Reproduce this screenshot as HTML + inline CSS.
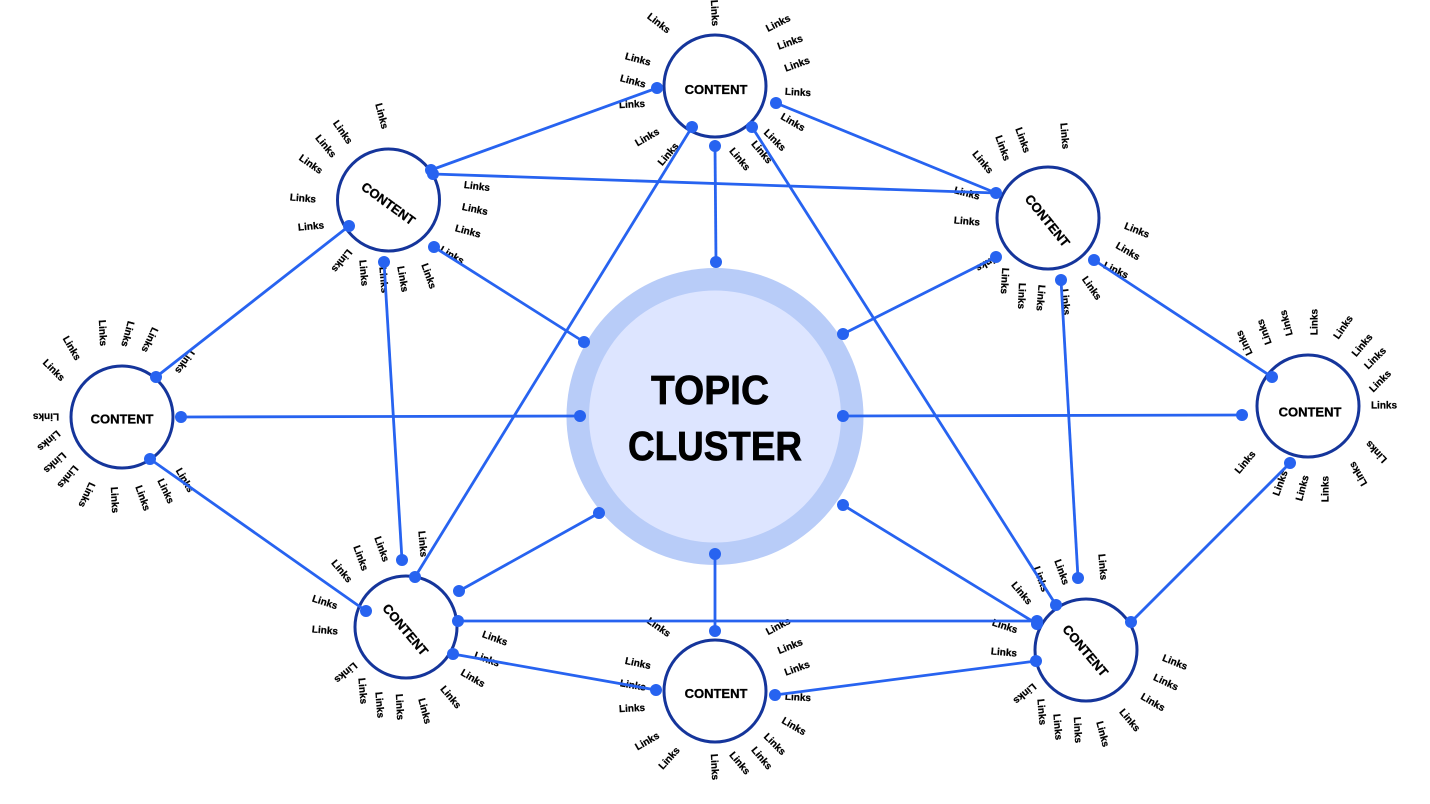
<!DOCTYPE html>
<html lang="en">
<head>
<meta charset="utf-8">
<title>Topic Cluster</title>
<style>
html,body{margin:0;padding:0;background:#fff;width:1430px;height:804px;overflow:hidden}
svg{display:block}
text{font-family:"Liberation Sans",sans-serif;font-weight:700;fill:#000;text-anchor:middle}
.l text{font-size:10px;stroke:#000;stroke-width:.25}
.c text{font-size:13px;stroke:#000;stroke-width:.3}
.t{stroke:#000;stroke-width:.7}
.n circle{fill:#fff;stroke:#15359b;stroke-width:3}
.e line{stroke:#2763f0;stroke-width:2.8}
.d circle{fill:#2763f0}
</style>
</head>
<body>
<svg width="1430" height="804" viewBox="0 0 1430 804" xmlns="http://www.w3.org/2000/svg">
<rect width="1430" height="804" fill="#fff"/>
<circle cx="715" cy="416.5" r="148.5" fill="#b8ccf8"/>
<circle cx="715" cy="416.5" r="126" fill="#dde5ff"/>
<text class="t" x="710" y="404" font-size="41" textLength="118" lengthAdjust="spacingAndGlyphs">TOPIC</text>
<text class="t" x="715" y="460" font-size="41" textLength="174" lengthAdjust="spacingAndGlyphs">CLUSTER</text>

<g class="n">
<circle cx="715" cy="86" r="51"/>
<circle cx="388.5" cy="200" r="51"/>
<circle cx="1048" cy="218" r="51"/>
<circle cx="122" cy="417" r="51"/>
<circle cx="1308" cy="406" r="51"/>
<circle cx="406" cy="627" r="51"/>
<circle cx="715" cy="691" r="51"/>
<circle cx="1086" cy="650" r="51"/>
</g>

<g class="c">
<text transform="translate(716 94)">CONTENT</text>
<text transform="translate(388 204) rotate(36) translate(0 4)">CONTENT</text>
<text transform="translate(1047 221) rotate(51) translate(0 4)">CONTENT</text>
<text transform="translate(122 423.5)">CONTENT</text>
<text transform="translate(1310 416.5)">CONTENT</text>
<text transform="translate(405 630) rotate(50) translate(0 4)">CONTENT</text>
<text transform="translate(716 698)">CONTENT</text>
<text transform="translate(1085 651) rotate(50) translate(0 4)">CONTENT</text>
</g>

<g class="l">
<!-- top -->
<text transform="translate(659 23) rotate(38) translate(0 3.5)">Links</text>
<text transform="translate(715 13) rotate(87) translate(0 3.5)">Links</text>
<text transform="translate(778 23) rotate(-27) translate(0 3.5)">Links</text>
<text transform="translate(790 42) rotate(-20) translate(0 3.5)">Links</text>
<text transform="translate(797 64) rotate(-20) translate(0 3.5)">Links</text>
<text transform="translate(798 92) rotate(3) translate(0 3.5)">Links</text>
<text transform="translate(793 122) rotate(30) translate(0 3.5)">Links</text>
<text transform="translate(775 140) rotate(45) translate(0 3.5)">Links</text>
<text transform="translate(762 152) rotate(50) translate(0 3.5)">Links</text>
<text transform="translate(740 159) rotate(50) translate(0 3.5)">Links</text>
<text transform="translate(668 154) rotate(-50) translate(0 3.5)">Links</text>
<text transform="translate(647 137) rotate(-30) translate(0 3.5)">Links</text>
<text transform="translate(632 104) rotate(-3) translate(0 3.5)">Links</text>
<text transform="translate(633 81) rotate(15) translate(0 3.5)">Links</text>
<text transform="translate(638 59) rotate(15) translate(0 3.5)">Links</text>
<!-- top left -->
<text transform="translate(382 116) rotate(75) translate(0 3.5)">Links</text>
<text transform="translate(343 132) rotate(55) translate(0 3.5)">Links</text>
<text transform="translate(326 146) rotate(50) translate(0 3.5)">Links</text>
<text transform="translate(311 164) rotate(35) translate(0 3.5)">Links</text>
<text transform="translate(303 198) rotate(5) translate(0 3.5)">Links</text>
<text transform="translate(311 226) rotate(-5) translate(0 3.5)">Links</text>
<text transform="translate(342 261) rotate(129) translate(0 3.5)">Links</text>
<text transform="translate(364 273) rotate(85) translate(0 3.5)">Links</text>
<text transform="translate(384 280) rotate(85) translate(0 3.5)">Links</text>
<text transform="translate(403 279) rotate(80) translate(0 3.5)">Links</text>
<text transform="translate(429 276) rotate(70) translate(0 3.5)">Links</text>
<text transform="translate(477 186) rotate(7) translate(0 3.5)">Links</text>
<text transform="translate(475 209) rotate(12) translate(0 3.5)">Links</text>
<text transform="translate(468 231) rotate(15) translate(0 3.5)">Links</text>
<text transform="translate(452 255) rotate(30) translate(0 3.5)">Links</text>
<!-- top right -->
<text transform="translate(1065 136) rotate(85) translate(0 3.5)">Links</text>
<text transform="translate(1023 140) rotate(70) translate(0 3.5)">Links</text>
<text transform="translate(1003 148) rotate(70) translate(0 3.5)">Links</text>
<text transform="translate(983 162) rotate(50) translate(0 3.5)">Links</text>
<text transform="translate(967 193) rotate(15) translate(0 3.5)">Links</text>
<text transform="translate(967 221) rotate(5) translate(0 3.5)">Links</text>
<text transform="translate(988 263) rotate(150) translate(0 3.5)">Links</text>
<text transform="translate(1005 281) rotate(93) translate(0 3.5)">Links</text>
<text transform="translate(1022 296) rotate(92) translate(0 3.5)">Links</text>
<text transform="translate(1041 298) rotate(95) translate(0 3.5)">Links</text>
<text transform="translate(1066 302) rotate(85) translate(0 3.5)">Links</text>
<text transform="translate(1092 288) rotate(55) translate(0 3.5)">Links</text>
<text transform="translate(1137 230) rotate(22) translate(0 3.5)">Links</text>
<text transform="translate(1128 251) rotate(30) translate(0 3.5)">Links</text>
<text transform="translate(1116 270) rotate(25) translate(0 3.5)">Links</text>
<!-- left -->
<text transform="translate(103 333) rotate(87) translate(0 3.5)">Links</text>
<text transform="translate(128 334) rotate(105) translate(0 3.5)">Links</text>
<text transform="translate(150 340) rotate(115) translate(0 3.5)">Links</text>
<text transform="translate(72 348) rotate(60) translate(0 3.5)">Links</text>
<text transform="translate(54 370) rotate(45) translate(0 3.5)">Links</text>
<text transform="translate(185 362) rotate(125) translate(0 3.5)">Links</text>
<text transform="translate(46 417) rotate(180) translate(0 3.5)">Links</text>
<text transform="translate(49 441) rotate(140) translate(0 3.5)">Links</text>
<text transform="translate(55 463) rotate(138) translate(0 3.5)">Links</text>
<text transform="translate(68 477) rotate(130) translate(0 3.5)">Links</text>
<text transform="translate(87 495) rotate(115) translate(0 3.5)">Links</text>
<text transform="translate(115 500) rotate(87) translate(0 3.5)">Links</text>
<text transform="translate(143 498) rotate(70) translate(0 3.5)">Links</text>
<text transform="translate(166 491) rotate(65) translate(0 3.5)">Links</text>
<text transform="translate(185 480) rotate(60) translate(0 3.5)">Links</text>
<!-- right -->
<text transform="translate(1244 343) rotate(-115) translate(0 3.5)">Links</text>
<text transform="translate(1264 332) rotate(-110) translate(0 3.5)">Links</text>
<text transform="translate(1286 323) rotate(-105) translate(0 3.5)">Links</text>
<text transform="translate(1314 322) rotate(-90) translate(0 3.5)">Links</text>
<text transform="translate(1343 327) rotate(-55) translate(0 3.5)">Links</text>
<text transform="translate(1362 345) rotate(-50) translate(0 3.5)">Links</text>
<text transform="translate(1375 358) rotate(-45) translate(0 3.5)">Links</text>
<text transform="translate(1380 381) rotate(-45) translate(0 3.5)">Links</text>
<text transform="translate(1384 405) translate(0 3.5)">Links</text>
<text transform="translate(1376 452) rotate(-133) translate(0 3.5)">Links</text>
<text transform="translate(1358 474) rotate(-120) translate(0 3.5)">Links</text>
<text transform="translate(1325 489) rotate(-90) translate(0 3.5)">Links</text>
<text transform="translate(1302 488) rotate(-75) translate(0 3.5)">Links</text>
<text transform="translate(1280 483) rotate(-70) translate(0 3.5)">Links</text>
<text transform="translate(1245 462) rotate(-50) translate(0 3.5)">Links</text>
<!-- bottom left -->
<text transform="translate(423 544) rotate(85) translate(0 3.5)">Links</text>
<text transform="translate(382 549) rotate(70) translate(0 3.5)">Links</text>
<text transform="translate(361 558) rotate(70) translate(0 3.5)">Links</text>
<text transform="translate(342 571) rotate(50) translate(0 3.5)">Links</text>
<text transform="translate(325 602) rotate(18) translate(0 3.5)">Links</text>
<text transform="translate(325 630) rotate(5) translate(0 3.5)">Links</text>
<text transform="translate(346 673) rotate(140) translate(0 3.5)">Links</text>
<text transform="translate(363 691) rotate(85) translate(0 3.5)">Links</text>
<text transform="translate(380 705) rotate(85) translate(0 3.5)">Links</text>
<text transform="translate(400 707) rotate(87) translate(0 3.5)">Links</text>
<text transform="translate(425 711) rotate(75) translate(0 3.5)">Links</text>
<text transform="translate(451 697) rotate(50) translate(0 3.5)">Links</text>
<text transform="translate(473 678) rotate(30) translate(0 3.5)">Links</text>
<text transform="translate(487 659) rotate(20) translate(0 3.5)">Links</text>
<text transform="translate(495 638) rotate(20) translate(0 3.5)">Links</text>
<!-- bottom -->
<text transform="translate(659 627) rotate(35) translate(0 3.5)">Links</text>
<text transform="translate(778 626) rotate(-28) translate(0 3.5)">Links</text>
<text transform="translate(790 646) rotate(-22) translate(0 3.5)">Links</text>
<text transform="translate(797 668) rotate(-20) translate(0 3.5)">Links</text>
<text transform="translate(798 697) rotate(3) translate(0 3.5)">Links</text>
<text transform="translate(794 726) rotate(30) translate(0 3.5)">Links</text>
<text transform="translate(775 744) rotate(45) translate(0 3.5)">Links</text>
<text transform="translate(762 758) rotate(50) translate(0 3.5)">Links</text>
<text transform="translate(740 763) rotate(50) translate(0 3.5)">Links</text>
<text transform="translate(715 767) rotate(87) translate(0 3.5)">Links</text>
<text transform="translate(669 758) rotate(-48) translate(0 3.5)">Links</text>
<text transform="translate(647 741) rotate(-30) translate(0 3.5)">Links</text>
<text transform="translate(632 708) rotate(-3) translate(0 3.5)">Links</text>
<text transform="translate(633 685) rotate(10) translate(0 3.5)">Links</text>
<text transform="translate(638 663) rotate(12) translate(0 3.5)">Links</text>
<!-- bottom right -->
<text transform="translate(1103 567) rotate(85) translate(0 3.5)">Links</text>
<text transform="translate(1062 572) rotate(70) translate(0 3.5)">Links</text>
<text transform="translate(1041 579) rotate(70) translate(0 3.5)">Links</text>
<text transform="translate(1022 593) rotate(50) translate(0 3.5)">Links</text>
<text transform="translate(1005 626) rotate(18) translate(0 3.5)">Links</text>
<text transform="translate(1004 652) rotate(5) translate(0 3.5)">Links</text>
<text transform="translate(1025 694) rotate(140) translate(0 3.5)">Links</text>
<text transform="translate(1042 712) rotate(85) translate(0 3.5)">Links</text>
<text transform="translate(1058 727) rotate(85) translate(0 3.5)">Links</text>
<text transform="translate(1078 730) rotate(87) translate(0 3.5)">Links</text>
<text transform="translate(1103 734) rotate(75) translate(0 3.5)">Links</text>
<text transform="translate(1130 720) rotate(50) translate(0 3.5)">Links</text>
<text transform="translate(1153 702) rotate(30) translate(0 3.5)">Links</text>
<text transform="translate(1166 682) rotate(25) translate(0 3.5)">Links</text>
<text transform="translate(1175 662) rotate(22) translate(0 3.5)">Links</text>
</g>

<g class="e">
<line x1="431" y1="170" x2="657" y2="88"/>
<line x1="433" y1="174" x2="996" y2="193"/>
<line x1="349" y1="226" x2="156" y2="377"/>
<line x1="434" y1="247" x2="584" y2="342"/>
<line x1="384" y1="262" x2="402" y2="560"/>
<line x1="692" y1="127" x2="415" y2="577"/>
<line x1="715" y1="146" x2="716" y2="262"/>
<line x1="752" y1="127" x2="1056" y2="605"/>
<line x1="776" y1="103" x2="996" y2="193"/>
<line x1="996" y1="257" x2="843" y2="334"/>
<line x1="1094" y1="260" x2="1272" y2="377"/>
<line x1="1061" y1="280" x2="1078" y2="578"/>
<line x1="181" y1="417" x2="580" y2="416"/>
<line x1="843" y1="416" x2="1242" y2="415"/>
<line x1="150" y1="459" x2="366" y2="611"/>
<line x1="599" y1="513" x2="459" y2="591"/>
<line x1="458" y1="621" x2="1037" y2="621"/>
<line x1="453" y1="654" x2="656" y2="690"/>
<line x1="715" y1="554" x2="715" y2="631"/>
<line x1="775" y1="695" x2="1036" y2="661"/>
<line x1="843" y1="505" x2="1037" y2="624"/>
<line x1="1131" y1="622" x2="1290" y2="463"/>
</g>

<g class="d">
<circle cx="431" cy="170" r="6"/><circle cx="657" cy="88" r="6"/>
<circle cx="433" cy="174" r="6"/><circle cx="996" cy="193" r="6"/>
<circle cx="349" cy="226" r="6"/><circle cx="156" cy="377" r="6"/>
<circle cx="434" cy="247" r="6"/><circle cx="584" cy="342" r="6"/>
<circle cx="384" cy="262" r="6"/><circle cx="402" cy="560" r="6"/>
<circle cx="692" cy="127" r="6"/><circle cx="415" cy="577" r="6"/>
<circle cx="715" cy="146" r="6"/><circle cx="716" cy="262" r="6"/>
<circle cx="752" cy="127" r="6"/><circle cx="1056" cy="605" r="6"/>
<circle cx="776" cy="103" r="6"/>
<circle cx="996" cy="257" r="6"/><circle cx="843" cy="334" r="6"/>
<circle cx="1094" cy="260" r="6"/><circle cx="1272" cy="377" r="6"/>
<circle cx="1061" cy="280" r="6"/><circle cx="1078" cy="578" r="6"/>
<circle cx="181" cy="417" r="6"/><circle cx="580" cy="416" r="6"/>
<circle cx="843" cy="416" r="6"/><circle cx="1242" cy="415" r="6"/>
<circle cx="150" cy="459" r="6"/><circle cx="366" cy="611" r="6"/>
<circle cx="599" cy="513" r="6"/><circle cx="459" cy="591" r="6"/>
<circle cx="458" cy="621" r="6"/><circle cx="1037" cy="621" r="6"/>
<circle cx="453" cy="654" r="6"/><circle cx="656" cy="690" r="6"/>
<circle cx="715" cy="554" r="6"/><circle cx="715" cy="631" r="6"/>
<circle cx="775" cy="695" r="6"/><circle cx="1036" cy="661" r="6"/>
<circle cx="843" cy="505" r="6"/><circle cx="1037" cy="624" r="6"/>
<circle cx="1131" cy="622" r="6"/><circle cx="1290" cy="463" r="6"/>
</g>
</svg>
</body>
</html>
